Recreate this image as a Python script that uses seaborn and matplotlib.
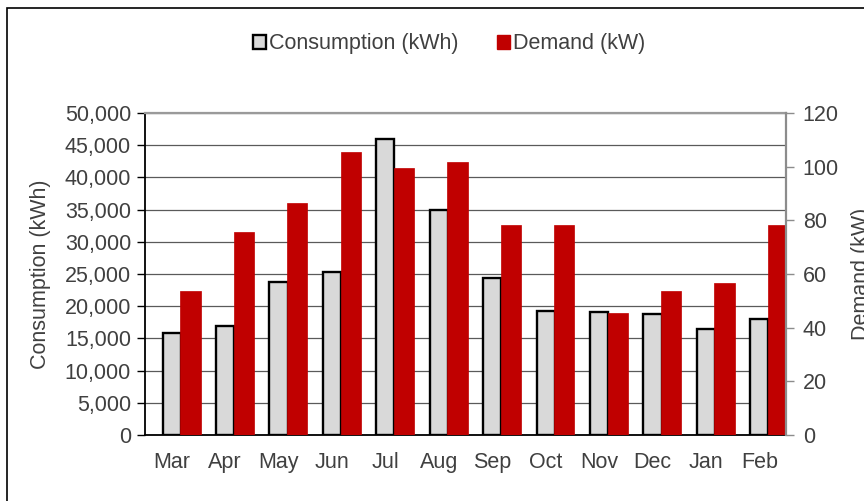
import numpy as np
import pandas as pd
import matplotlib
matplotlib.use("Agg")
import matplotlib.pyplot as plt
import seaborn as sns
from matplotlib.patches import Patch, Rectangle
from matplotlib.ticker import FuncFormatter, MultipleLocator

months = ["Mar", "Apr", "May", "Jun", "Jul", "Aug", "Sep", "Oct", "Nov", "Dec", "Jan", "Feb"]
consumption_kwh = [15800, 17000, 23700, 25300, 46000, 35000, 24400, 19300, 19100, 18800, 16400, 18000]
demand_kw = [53.5, 75.5, 86.5, 105.6, 99.6, 101.6, 78.4, 78.4, 45.6, 53.5, 56.6, 78.4]

sns.set_theme(style="white")
plt.rcParams["font.family"] = ["Liberation Sans", "DejaVu Sans"]

TXT = "#404040"
FS = 15.5
df = pd.DataFrame({"Month": months, "Consumption": consumption_kwh, "Demand": demand_kw})

fig = plt.figure(figsize=(8.64, 5.01), dpi=100)
ax = fig.add_axes([145 / 864, 66 / 501, 641 / 864, 322 / 501])
ax2 = ax.twinx()

sns.barplot(data=df, x="Month", y="Consumption", ax=ax, color="#d9d9d9",
            edgecolor="black", linewidth=1.7, width=0.34, saturation=1, zorder=2)
sns.barplot(data=df, x="Month", y="Demand", ax=ax2, color="#c00000",
            edgecolor="#c00000", linewidth=0.5, width=0.38, saturation=1, zorder=2)
for p in ax2.patches:
    p.set_x(p.get_x() + 0.35)

ax.set_xlim(-0.5, 11.5)
ax.set_ylim(0, 50000)
ax2.set_ylim(0, 120)
ax.yaxis.set_major_locator(MultipleLocator(5000))
ax2.yaxis.set_major_locator(MultipleLocator(20))
ax.yaxis.set_major_formatter(FuncFormatter(lambda v, p: f"{int(v):,}"))

ax.set_axisbelow(True)
ax.grid(axis="y", color="#5a5a5a", linewidth=0.9)
ax.grid(axis="x", visible=False)
ax2.grid(False)

ax.spines["top"].set_color("#9a9a9a")
ax.spines["top"].set_linewidth(1.6)
ax2.spines["top"].set_visible(False)
ax.spines["left"].set_color("black")
ax.spines["left"].set_linewidth(1.3)
ax.spines["bottom"].set_color("black")
ax.spines["bottom"].set_linewidth(1.3)
ax.spines["right"].set_visible(False)
ax2.spines["left"].set_visible(False)
ax2.spines["bottom"].set_visible(False)
ax2.spines["right"].set_color("#8c8c8c")
ax2.spines["right"].set_linewidth(1.6)

ax.set_xticks(np.arange(12))
ax.set_xticklabels(months)
ax.set_xticks(np.arange(-0.5, 12.0, 1), minor=True)
ax.tick_params(axis="x", which="major", length=0, pad=12, labelsize=FS, labelcolor=TXT)
ax.tick_params(axis="x", which="minor", length=5, width=1, color="#555555", direction="out")
ax.tick_params(axis="y", left=True, length=6, width=1, color="black", direction="out",
               labelsize=FS, labelcolor=TXT, pad=4)
ax2.tick_params(axis="y", right=True, length=6, width=1, color="#8c8c8c", direction="out",
                labelsize=FS, labelcolor=TXT, pad=6)

ax.set_xlabel("")
ax.set_ylabel("Consumption (kWh)", fontsize=FS, color=TXT, labelpad=10)
ax2.set_ylabel("Demand (kW)", fontsize=FS, color=TXT, rotation=90, labelpad=9)

handles = [Patch(facecolor="#d9d9d9", edgecolor="black", linewidth=1.7, label="Consumption (kWh)"),
           Patch(facecolor="#c00000", edgecolor="#c00000", label="Demand (kW)")]
fig.legend(handles=handles, loc="center", bbox_to_anchor=(449 / 864, 1 - 44 / 501),
           ncol=2, frameon=False, fontsize=FS, handlelength=0.6, handleheight=0.6,
           handletextpad=0.15, columnspacing=1.8, labelcolor=TXT)

fig.patches.append(Rectangle((7 / 864, -0.1), 2.0, 1 - 8 / 501 + 0.1, transform=fig.transFigure,
                             fill=False, edgecolor="black", linewidth=1.2))

fig.savefig("out.png", dpi=100)
